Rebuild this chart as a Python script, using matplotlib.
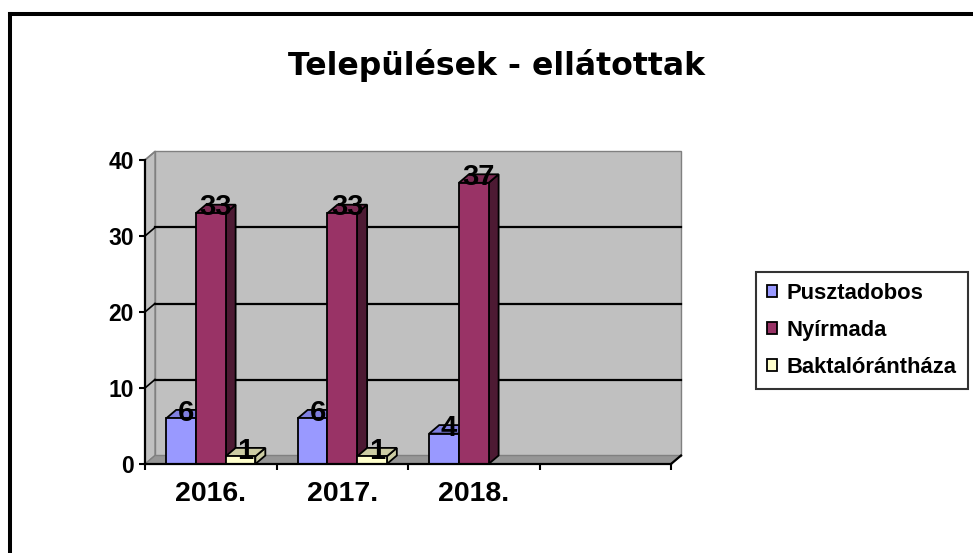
import numpy as np
import matplotlib
matplotlib.use("Agg")
import matplotlib.pyplot as plt
from matplotlib.patches import Polygon, Rectangle
from matplotlib.lines import Line2D

# ---- data ----
categories = ["2016.", "2017.", "2018.", ""]
series_names = ["Pusztadobos", "Nyírmada", "Baktalórántháza"]
pusztadobos = [6, 6, 4, np.nan]
nyirmada = [33, 33, 37, np.nan]
baktal = [1, 1, np.nan, np.nan]
y_ticks = [0, 10, 20, 30, 40]
title = "Települések - ellátottak"

series_values = [pusztadobos, nyirmada, baktal]
front_colors = ["#9999FF", "#993366", "#FFFFCC"]
top_colors = ["#7F7FE0", "#7A2952", "#CCCCA3"]
side_colors = ["#4D4D80", "#4D1A33", "#CCCCA3"]

W, H = 973, 553
fig = plt.figure(figsize=(W / 100, H / 100), dpi=100)
fig.patch.set_facecolor("white")

# front plane of the plot area, in pixels
px_left, px_right, px_y0, px_y40 = 145, 671, 464, 160
ax = fig.add_axes([px_left / W, (H - px_y0) / H,
                   (px_right - px_left) / W, (px_y0 - px_y40) / H])
ax.set_xlim(-0.5, 3.5)
ax.set_ylim(0, 40)
ax.set_facecolor("none")

px_per_cat = (px_right - px_left) / 4.0
px_per_unit = (px_y0 - px_y40) / 40.0
dx = 10 / px_per_cat
dy = 8.5 / px_per_unit
xl, xr, ytop = -0.5, 3.5, 40

# walls and floor
wall_kw = dict(closed=True, clip_on=False, edgecolor="#808080", linewidth=1.0, zorder=0)
ax.add_patch(Polygon([(xl + dx, dy), (xr + dx, dy), (xr + dx, ytop + dy), (xl + dx, ytop + dy)],
                     facecolor="#C0C0C0", **wall_kw))
ax.add_patch(Polygon([(xl, 0), (xl + dx, dy), (xl + dx, ytop + dy), (xl, ytop)],
                     facecolor="#C0C0C0", **wall_kw))
ax.add_patch(Polygon([(xl, 0), (xr, 0), (xr + dx, dy), (xl + dx, dy)],
                     facecolor="#969696", **wall_kw))

# gridlines on back and side wall
for v in y_ticks[1:-1]:
    ax.add_line(Line2D([xl + dx, xr + dx], [v + dy, v + dy], color="black", lw=1.6,
                       clip_on=False, zorder=1))
for v in y_ticks[1:]:
    ax.add_line(Line2D([xl, xl + dx], [v, v + dy], color="black" if v < 40 else "#808080",
                       lw=1.2, clip_on=False, zorder=1))
ax.add_line(Line2D([xr, xr + dx], [0, dy], color="black", lw=1.6, clip_on=False, zorder=1))

# 3D bars
bw = 0.226
for j in range(len(categories)):
    for i, vals in enumerate(series_values):
        v = vals[j]
        if np.isnan(v):
            continue
        x0 = j + (i - 1) * bw - bw / 2
        x1 = x0 + bw
        z = 3 + i
        ekw = dict(edgecolor="black", linewidth=1.3, clip_on=False, zorder=z)
        ax.add_patch(Polygon([(x1, 0), (x1 + dx, dy), (x1 + dx, v + dy), (x1, v)],
                             closed=True, facecolor=side_colors[i], **ekw))
        ax.add_patch(Polygon([(x0, v), (x1, v), (x1 + dx, v + dy), (x0 + dx, v + dy)],
                             closed=True, facecolor=top_colors[i], **ekw))
        ax.add_patch(Rectangle((x0, 0), bw, v, facecolor=front_colors[i], **ekw))
        ax.text((x0 + x1) / 2 + dx / 2, v - 0.3, f"{v:g}", ha="center", va="baseline",
                fontsize=21, fontweight="bold", family="Liberation Sans",
                zorder=10, clip_on=False)

# axes / ticks
for s in ["top", "right"]:
    ax.spines[s].set_visible(False)
for s in ["left", "bottom"]:
    ax.spines[s].set_color("black")
    ax.spines[s].set_linewidth(1.6)
    ax.spines[s].set_zorder(6)
ax.set_yticks(y_ticks)
ax.set_yticklabels([str(t) for t in y_ticks])
ax.tick_params(axis="y", direction="out", length=4, width=1.5, pad=4,
               labelsize=16.5)
ax.set_xticks(np.arange(len(categories)))
ax.set_xticklabels(categories)
ax.set_xticks(np.arange(len(categories) + 1) - 0.5, minor=True)
ax.tick_params(axis="x", which="major", length=0, pad=12.5, labelsize=20.5)
ax.tick_params(axis="x", which="minor", direction="out", length=4, width=1.5)
for lab in ax.get_xticklabels() + ax.get_yticklabels():
    lab.set_fontweight("bold")
    lab.set_family("Liberation Sans")

# title
fig.text(496.5 / W, 1 - 75 / H, title, ha="center", va="baseline",
         fontsize=22.7, fontweight="bold", family="DejaVu Sans")

# legend
handles = [Rectangle((0, 0), 1, 1, facecolor=c, edgecolor="black", linewidth=1.3)
           for c in front_colors]
leg = fig.legend(handles, series_names, loc="upper left",
                 bbox_to_anchor=(756 / W, 1 - 272 / H), bbox_transform=fig.transFigure,
                 frameon=True, fancybox=False, edgecolor="black", borderaxespad=0,
                 prop=dict(family="Liberation Sans", weight="bold", size=15.8),
                 handlelength=0.45, handleheight=0.45, handletextpad=0.45,
                 labelspacing=0.72, borderpad=0.5)
leg.get_frame().set_linewidth(1.5)

# chart border (top and left only visible)
fig.add_artist(Line2D([10 / W, 1.0], [1 - 14 / H, 1 - 14 / H], transform=fig.transFigure,
                      color="black", lw=2.9, solid_capstyle="projecting"))
fig.add_artist(Line2D([10 / W, 10 / W], [0.0, 1 - 14 / H], transform=fig.transFigure,
                      color="black", lw=2.9, solid_capstyle="projecting"))

fig.savefig("out.png", dpi=100, facecolor="white")
